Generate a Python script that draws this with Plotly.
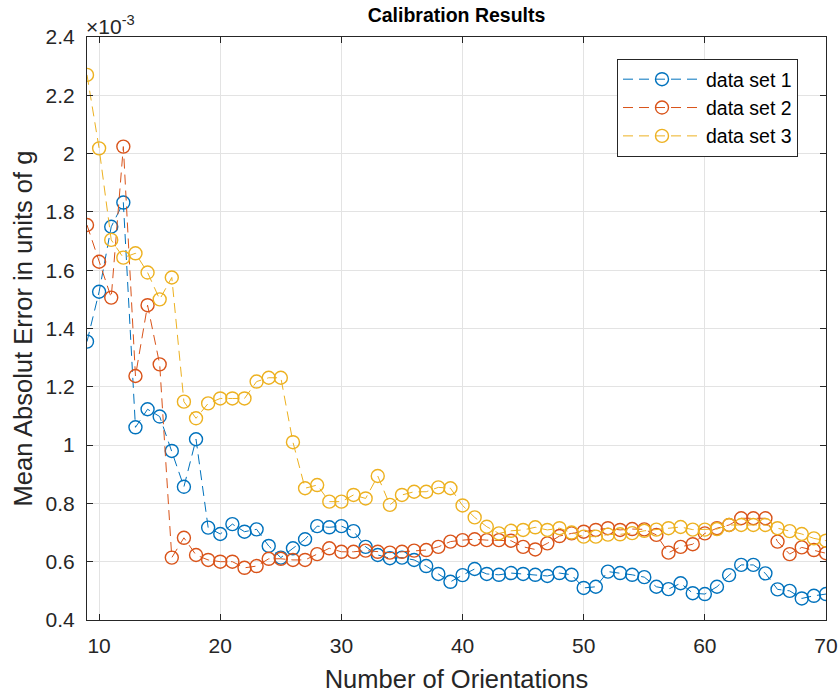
import plotly.graph_objects as go

# Number of orientations used in each calibration run
orientations = list(range(9, 71))

# Mean absolute error, in units of 1e-3 g
err_set1 = [1.355, 1.526, 1.749, 1.832, 1.061, 1.123, 1.098, 0.980, 0.857, 1.020,
            0.717, 0.695, 0.729, 0.703, 0.711, 0.654, 0.614, 0.646, 0.677, 0.722,
            0.718, 0.722, 0.705, 0.651, 0.623, 0.612, 0.614, 0.606, 0.585, 0.558,
            0.531, 0.554, 0.575, 0.558, 0.555, 0.561, 0.558, 0.555, 0.551, 0.561,
            0.555, 0.510, 0.514, 0.566, 0.561, 0.555, 0.547, 0.514, 0.506, 0.526,
            0.492, 0.489, 0.514, 0.554, 0.589, 0.589, 0.560, 0.505, 0.500, 0.474,
            0.483, 0.489]
err_set2 = [1.755, 1.629, 1.506, 2.024, 1.237, 1.480, 1.277, 0.614, 0.682, 0.623,
            0.606, 0.600, 0.600, 0.579, 0.585, 0.610, 0.610, 0.606, 0.606, 0.626,
            0.646, 0.634, 0.634, 0.638, 0.634, 0.631, 0.634, 0.638, 0.640, 0.651,
            0.669, 0.674, 0.677, 0.674, 0.674, 0.672, 0.651, 0.642, 0.663, 0.688,
            0.697, 0.703, 0.709, 0.715, 0.709, 0.712, 0.711, 0.692, 0.631, 0.651,
            0.660, 0.697, 0.715, 0.726, 0.749, 0.749, 0.749, 0.669, 0.626, 0.649,
            0.640, 0.629]
err_set3 = [2.270, 2.018, 1.704, 1.643, 1.658, 1.592, 1.500, 1.575, 1.149, 1.092,
            1.143, 1.160, 1.160, 1.160, 1.218, 1.231, 1.231, 1.010, 0.852, 0.863,
            0.806, 0.806, 0.829, 0.817, 0.894, 0.795, 0.829, 0.840, 0.840, 0.855,
            0.852, 0.793, 0.752, 0.720, 0.697, 0.706, 0.709, 0.718, 0.709, 0.715,
            0.700, 0.686, 0.686, 0.693, 0.694, 0.698, 0.706, 0.710, 0.715, 0.719,
            0.710, 0.710, 0.712, 0.726, 0.726, 0.726, 0.726, 0.715, 0.705, 0.695,
            0.680, 0.672]

series_names = ["data set 1", "data set 2", "data set 3"]
series_colors = ["#0072BD", "#D95319", "#EDB120"]

x_ticks = [10, 20, 30, 40, 50, 60, 70]
y_ticks = [0.4, 0.6, 0.8, 1.0, 1.2, 1.4, 1.6, 1.8, 2.0, 2.2, 2.4]
y_tick_text = ["0.4", "0.6", "0.8", "1", "1.2", "1.4", "1.6", "1.8", "2", "2.2", "2.4"]

FONT = "Liberation Sans, Arial, Helvetica, sans-serif"
AX_COLOR = "#262626"

fig = go.Figure()
for name, color, vals in zip(series_names, series_colors, [err_set1, err_set2, err_set3]):
    fig.add_trace(go.Scatter(
        x=orientations, y=vals, name=name, mode="lines+markers",
        line=dict(color=color, width=1, dash="10px,6px"),
        marker=dict(symbol="circle-open", size=13, color=color,
                    line=dict(color=color, width=1.4)),
    ))

axis_common = dict(
    showline=True, linecolor=AX_COLOR, linewidth=1, mirror="ticks",
    ticks="inside", ticklen=6, tickcolor=AX_COLOR, tickwidth=1,
    showgrid=True, gridcolor="#e3e3e3", gridwidth=1, zeroline=False,
    automargin=False,
    tickfont=dict(family=FONT, size=21, color=AX_COLOR),
)

fig.update_layout(
    width=839, height=693,
    margin=dict(l=87, r=13, t=37, b=73),
    paper_bgcolor="white", plot_bgcolor="white",
    title=dict(text="<b>Calibration Results</b>", x=(87 + 826) / 2 / 839, xanchor="center",
               y=1 - 15 / 693, yanchor="middle",
               font=dict(family=FONT, size=19.5, color="black")),
    xaxis=dict(range=[9, 70], tickvals=x_ticks, ticklabelstandoff=7, **axis_common,
               title=dict(text="Number of Orientations", standoff=13,
                          font=dict(family=FONT, size=25.5, color=AX_COLOR))),
    yaxis=dict(range=[0.4, 2.4], tickvals=y_ticks, ticktext=y_tick_text,
               ticklabelstandoff=7, **axis_common,
               title=dict(text="Mean Absolut Error in units of g", standoff=5,
                          font=dict(family=FONT, size=25.5, color=AX_COLOR))),
    legend=dict(x=(617 - 87) / 739, y=(620 - 59) / 583, xanchor="left", yanchor="top",
                bgcolor="white", bordercolor=AX_COLOR, borderwidth=1,
                font=dict(family=FONT, size=19.5, color="black"),
                itemwidth=78, tracegroupgap=0),
    showlegend=True,
)

# Axis exponent label
fig.add_annotation(text="×10<sup>-3</sup>", xref="paper", yref="paper",
                   x=0, y=1, xanchor="left", yanchor="bottom", showarrow=False,
                   xshift=-3, yshift=-3, font=dict(family=FONT, size=21, color=AX_COLOR))

fig.write_html("out.html")
